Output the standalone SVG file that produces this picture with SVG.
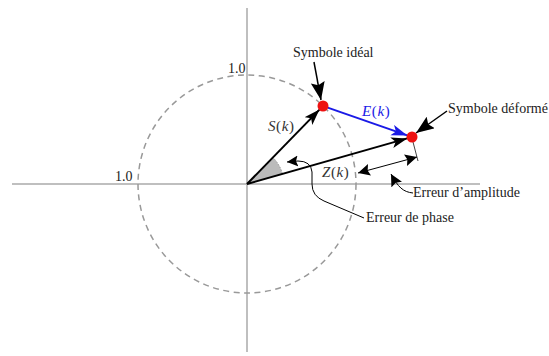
<svg xmlns="http://www.w3.org/2000/svg" width="549" height="356" viewBox="0 0 549 356">
<style>
text{font-family:"Liberation Serif","Times New Roman",serif;font-size:14px;fill:#222}
.m{font-size:15px;fill:#333;letter-spacing:0.6px}
.i{font-style:italic}
.axis{stroke:#aaa;stroke-width:1.5;fill:none}
.vec{stroke:#000;stroke-width:2;fill:none}
.call{stroke:#000;stroke-width:1.5;fill:none}
.thin{stroke:#000;stroke-width:1;fill:none}
.dot{fill:#ee1111}
</style>
<defs>
<marker id="arr" markerUnits="userSpaceOnUse" markerWidth="17" markerHeight="12" refX="16" refY="5.5" orient="auto">
<path d="M0,0 L16,5.5 L0,11 L4,5.5 z" fill="#000"/>
</marker>
<marker id="arrb" markerUnits="userSpaceOnUse" markerWidth="17" markerHeight="12" refX="16" refY="5.5" orient="auto">
<path d="M0,0 L16,5.5 L0,11 L4,5.5 z" fill="#1a1ae6"/>
</marker>
<marker id="big" markerUnits="userSpaceOnUse" markerWidth="19" markerHeight="15" refX="18" refY="7" orient="auto">
<path d="M0,0 L18,7 L0,14 L3,7 z" fill="#000"/>
</marker>
<marker id="mid" markerUnits="userSpaceOnUse" markerWidth="13" markerHeight="13" refX="12" refY="6" orient="auto-start-reverse">
<path d="M0,0 L12,6 L0,12 L2,6 z" fill="#000"/>
</marker>
<marker id="sm" markerUnits="userSpaceOnUse" markerWidth="12" markerHeight="12" refX="11" refY="5.5" orient="auto">
<path d="M0,0 L11,5.5 L0,11 L2,5.5 z" fill="#000"/>
</marker>
</defs>

<g id="axes">
<line class="axis" x1="12" y1="184" x2="480" y2="184"/>
<line class="axis" x1="247" y1="8" x2="247" y2="352"/>
<circle cx="247" cy="184" r="109" fill="none" stroke="#999" stroke-width="1.5" stroke-dasharray="6 4.5"/>
<text x="228" y="73">1.0</text>
<text x="115" y="181">1.0</text>
</g>

<g id="phase-wedge">
<path d="M247,184 L282.5,173.7 A37,37 0 0,0 273.2,157.8 Z" fill="#bbb"/>
<path d="M282.5,173.7 A37,37 0 0,0 273.2,157.8" fill="none" stroke="#999" stroke-width="1" stroke-dasharray="1.5 1.5"/>
</g>

<g id="connectors">
<line class="vec" x1="247" y1="184" x2="319.5" y2="109.6" marker-end="url(#arr)"/>
<line class="vec" x1="247" y1="184" x2="407.2" y2="138.4" marker-end="url(#arr)"/>
<line x1="327.7" y1="107.6" x2="407.3" y2="135.4" stroke="#1a1ae6" stroke-width="2" marker-end="url(#arrb)"/>
<line x1="413" y1="142" x2="418" y2="161" stroke="#444" stroke-width="1"/>
<line class="thin" x1="358" y1="173" x2="417" y2="157" marker-start="url(#mid)" marker-end="url(#mid)"/>
<line class="call" x1="314" y1="62" x2="321" y2="100" marker-end="url(#big)"/>
<line class="call" x1="447" y1="111" x2="416" y2="133" marker-end="url(#big)"/>
<path class="thin" d="M364,218 L324,201 Q312,196 312,184 L312,172 Q311,161 298,161 L287,162" marker-end="url(#sm)"/>
<path class="thin" d="M413,193 C403,192 398,187 391,174" marker-end="url(#mid)"/>
</g>

<g id="ideal-symbol">
<circle class="dot" cx="323" cy="106" r="5.5"/>
<text x="293" y="57">Symbole idéal</text>
</g>
<g id="deformed-symbol">
<circle class="dot" cx="412" cy="137" r="5.5"/>
<text x="448" y="113">Symbole déformé</text>
</g>
<g id="labels">
<text class="m" x="268" y="131"><tspan class="i">S</tspan>(<tspan class="i">k</tspan>)</text>
<text class="m" x="362" y="116" style="fill:#1a1ae6"><tspan class="i">E</tspan>(<tspan class="i">k</tspan>)</text>
<text class="m" x="322" y="177"><tspan class="i">Z</tspan>(<tspan class="i">k</tspan>)</text>
<text x="413" y="197">Erreur d’amplitude</text>
<text x="366" y="222">Erreur de phase</text>
</g>
</svg>
